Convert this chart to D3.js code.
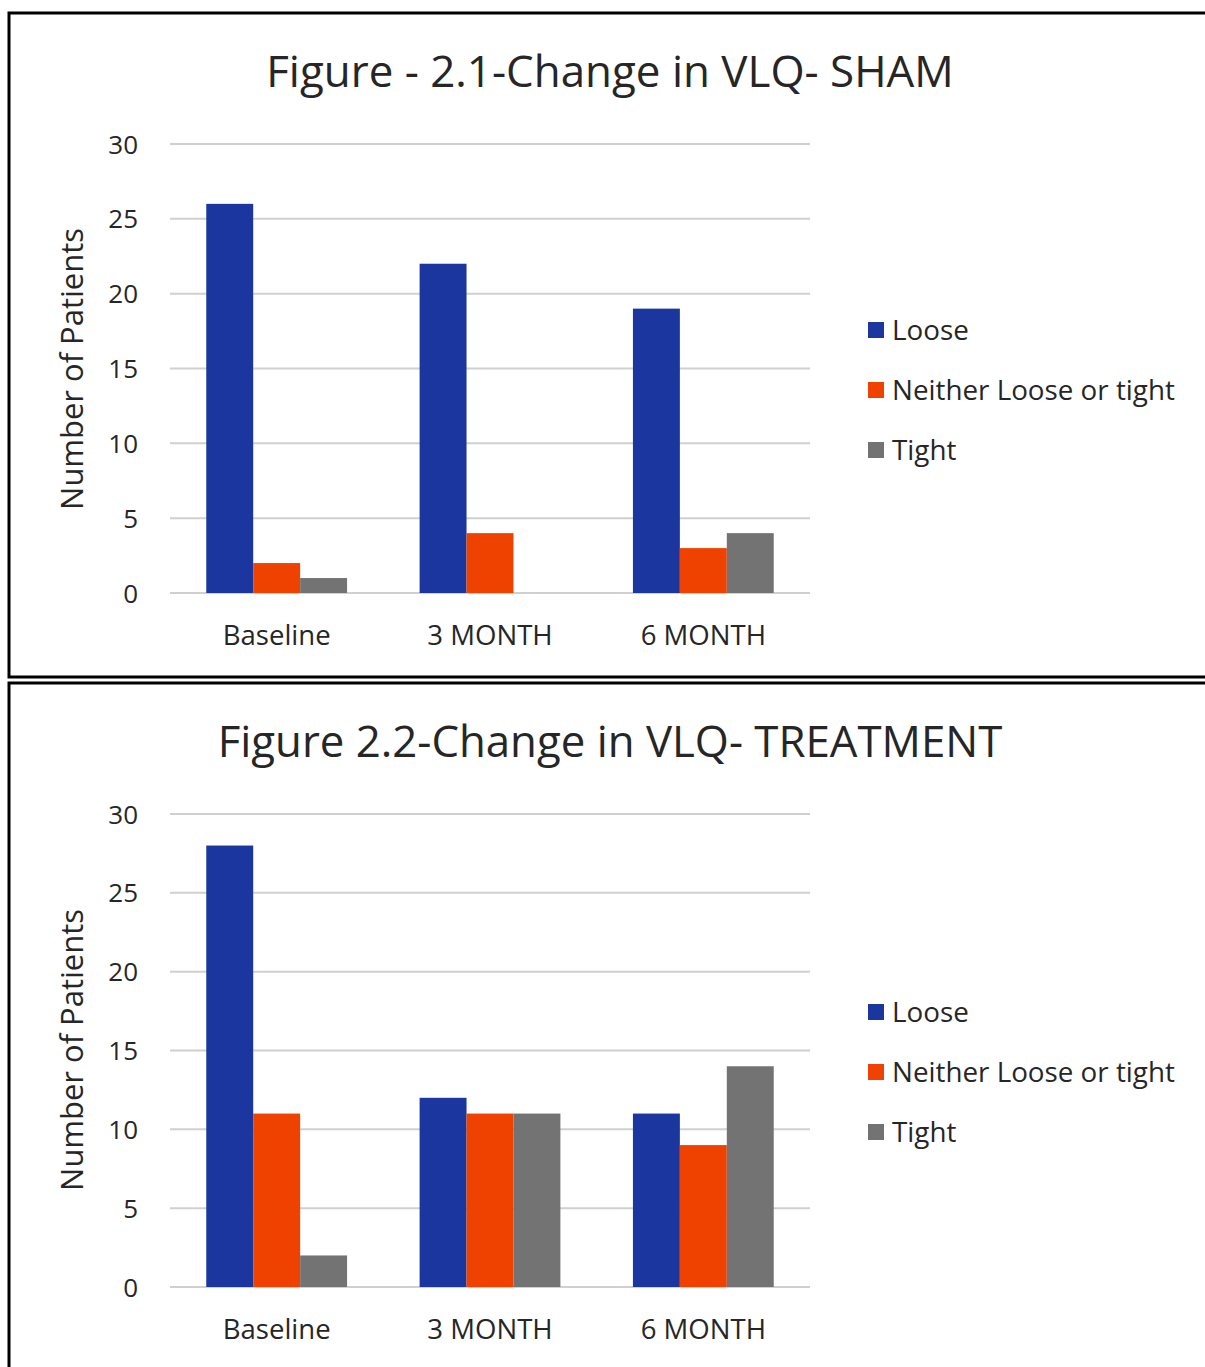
<!DOCTYPE html>
<html><head><meta charset="utf-8">
<script src="https://cdn.jsdelivr.net/npm/d3@7"></script>
<style>body{margin:0;background:#fff}svg{display:block}text{font-family:"Open Sans",Lato,sans-serif;fill:#262626}</style>
</head><body>
<svg id="c" width="1205" height="1367"></svg>
<script>
const categories = ["Baseline", "3 MONTH", "6 MONTH"];
const seriesNames = ["Loose", "Neither Loose or tight", "Tight"];
const seriesColors = ["#1c369f", "#ef4200", "#737373"];
const yTicks = [0, 5, 10, 15, 20, 25, 30];
const shamLoose = [26, 22, 19];
const shamNeither = [2, 4, 3];
const shamTight = [1, 0, 4];
const treatLoose = [28, 12, 11];
const treatNeither = [11, 11, 9];
const treatTight = [2, 11, 14];

const charts = [
  {title: "Figure - 2.1-Change in VLQ- SHAM", values: [shamLoose, shamNeither, shamTight],
   top: 144, bottom: 593, titleY: 87, titleW: 688, legendY: 330, catY: 645, axisY: 369},
  {title: "Figure 2.2-Change in VLQ- TREATMENT", values: [treatLoose, treatNeither, treatTight],
   top: 814, bottom: 1287, titleY: 757, titleW: 785, legendY: 1012, catY: 1339, axisY: 1050}
];

const svg = d3.select("#c");
svg.append("rect").attr("x", 9).attr("y", 13).attr("width", 1220).attr("height", 664)
  .attr("fill", "none").attr("stroke", "#000").attr("stroke-width", 3);
svg.append("rect").attr("x", 9).attr("y", 683).attr("width", 1220).attr("height", 720)
  .attr("fill", "none").attr("stroke", "#000").attr("stroke-width", 3);

function fit(sel, size, target) {
  sel.attr("font-size", size);
  const w = sel.node().getComputedTextLength();
  const fs = size * target / w;
  sel.attr("font-size", fs);
  return fs;
}

charts.forEach(ch => {
  const g = svg.append("g");
  const y = d3.scaleLinear().domain([0, 30]).range([ch.bottom, ch.top]);
  const x = d3.scaleBand().domain(categories).range([170, 810]).paddingInner(0.34).paddingOuter(0.17);
  const xs = d3.scaleBand().domain(seriesNames).range([0, x.bandwidth()]);

  g.append("g").selectAll("line").data(yTicks).join("line")
    .attr("x1", 170).attr("x2", 810).attr("y1", d => y(d)).attr("y2", d => y(d))
    .attr("stroke", "#d0d0d0").attr("stroke-width", 2);

  const ya = g.append("g").attr("transform", "translate(170,0)")
    .call(d3.axisLeft(y).tickValues(yTicks).tickSize(0).tickPadding(32));
  ya.select(".domain").remove();
  ya.selectAll("text").attr("font-size", 26).style("font-family", "'Open Sans'").attr("fill", "#262626").attr("dy", "0.35em");

  seriesNames.forEach((s, si) => {
    g.append("g").selectAll("rect").data(categories).join("rect")
      .attr("x", c => x(c) + xs(s))
      .attr("width", xs.bandwidth())
      .attr("y", (c, ci) => y(ch.values[si][ci]))
      .attr("height", (c, ci) => y(0) - y(ch.values[si][ci]))
      .attr("fill", seriesColors[si]);
  });

  const xa = g.append("g").attr("transform", `translate(0,${ch.bottom})`)
    .call(d3.axisBottom(x).tickSize(0).tickPadding(0));
  xa.select(".domain").remove();
  const xt = xa.selectAll("text").attr("y", ch.catY - ch.bottom).attr("dy", 0)
    .style("font-family", "'Open Sans'").attr("fill", "#262626");
  const cfs = fit(xt.filter(d => d === "Baseline"), 24, 108);
  xt.attr("font-size", cfs);

  const t = g.append("text").attr("x", 610).attr("y", ch.titleY).attr("text-anchor", "middle").text(ch.title);
  fit(t, 42, ch.titleW);

  const at = g.append("text").attr("transform", `translate(83,${ch.axisY}) rotate(-90)`)
    .attr("text-anchor", "middle").text("Number of Patients");
  fit(at, 27, 282);

  const lt = [];
  seriesNames.forEach((s, si) => {
    const ly = ch.legendY + si * 60;
    g.append("rect").attr("x", 868).attr("y", ly - 8).attr("width", 16).attr("height", 16).attr("fill", seriesColors[si]);
    lt.push(g.append("text").attr("x", 892).attr("y", ly).attr("dy", "0.35em").text(s));
  });
  const lfs = fit(lt[1], 26, 283);
  lt.forEach(t => t.attr("font-size", lfs));
});
</script>
</body></html>
